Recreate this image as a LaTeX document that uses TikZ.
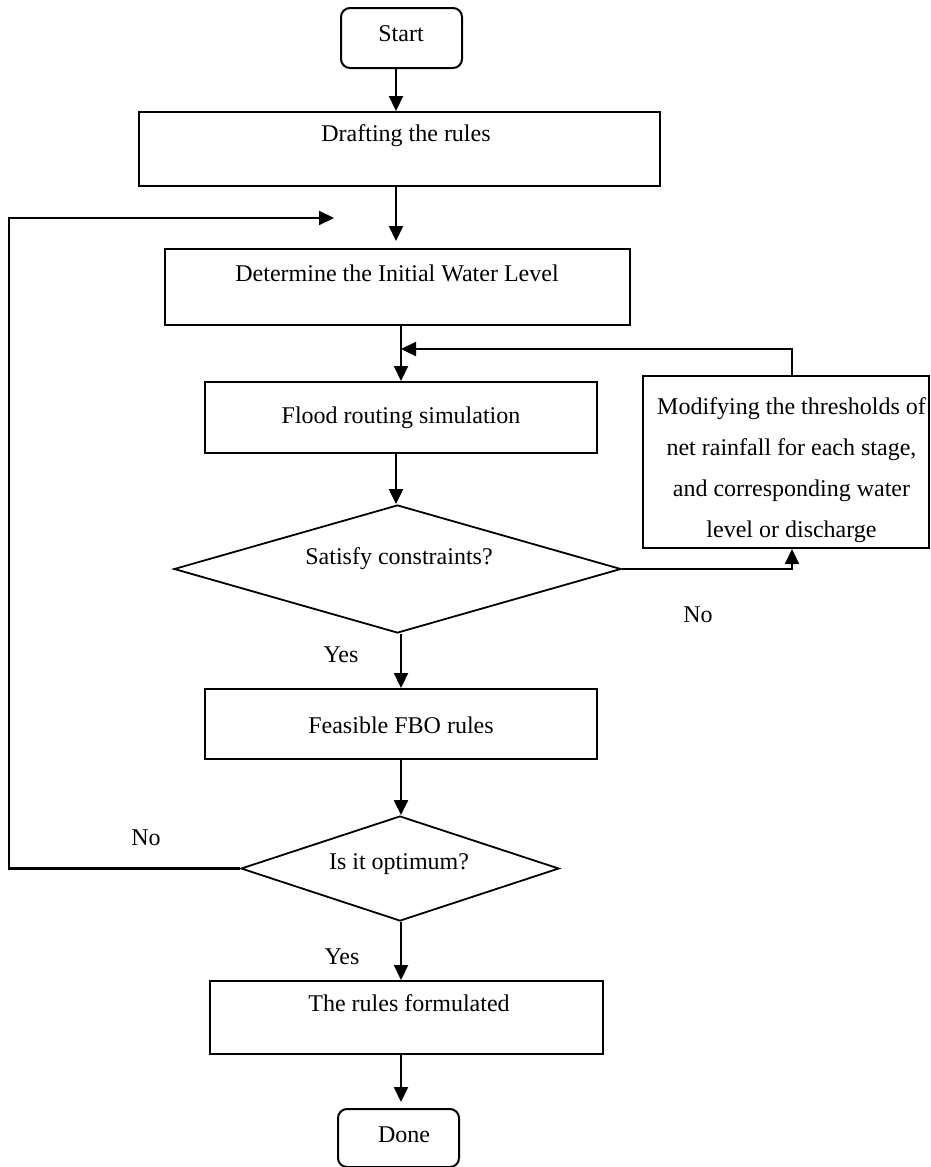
\documentclass[tikz,border=0pt]{standalone}
\usepackage{fontspec}
\setmainfont{Liberation Serif}
\usetikzlibrary{arrows.meta,shapes.geometric,calc}
\begin{document}
\begin{tikzpicture}[x=1pt,y=-1pt,
  every node/.style={font=\fontsize{24}{41}\selectfont},
  box/.style={draw, line width=2pt, rectangle, inner sep=0},
  term/.style={box, rounded corners=9pt},
  dec/.style={draw, line width=1.8pt, diamond, inner sep=0},
  arr/.style={line width=2.2pt, -{Triangle[length=15pt,width=14pt]}},
  txt/.style={inner sep=0, anchor=center}]
\useasboundingbox (0,0) rectangle (931,1167);
% guide coordinates
\coordinate (c396) at (396,0);
\coordinate (c401) at (401,0);
\coordinate (c792) at (792,0);
\coordinate (fb) at (401,349);
\coordinate (lp) at (9,218);
\coordinate (lpend) at (334,218);
% nodes
\node[term, minimum width=121pt, minimum height=60pt] (start) at (401.5,38) {};
\node[txt] (startT) at (401,33.5) {Start};
\node[box, minimum width=521pt, minimum height=74pt] (draft) at (399.5,149) {};
\node[txt] (draftT) at (406,136) {Drafting the rules};
\node[box, minimum width=465pt, minimum height=76pt] (init) at (397.5,287) {};
\node[txt] (initT) at (397,273) {Determine the Initial Water Level};
\node[box, minimum width=392pt, minimum height=71pt] (flood) at (401,417.5) {};
\node[txt] (floodT) at (401,418) {Flood routing simulation};
\node[dec, minimum width=447pt, minimum height=128pt] (sat) at (397.5,569) {};
\node[txt] (satT) at (399,559) {Satisfy constraints?};
\node[box, minimum width=286pt, minimum height=172pt] (mod) at (786,462) {};
\node[txt, align=center] (modT) at (791.5,470) {Modifying the thresholds of\\net rainfall for each stage,\\and corresponding water\\level or discharge};
\node[box, minimum width=392pt, minimum height=70pt] (feas) at (401,724) {};
\node[txt] (feasT) at (401,725) {Feasible FBO rules};
\node[dec, minimum width=318pt, minimum height=105pt] (opt) at (400,868.5) {};
\node[txt] (optT) at (399,864) {Is it optimum?};
\node[box, minimum width=393pt, minimum height=73pt] (rules) at (406.5,1017.5) {};
\node[txt] (rulesT) at (409,1003.5) {The rules formulated};
\node[term, minimum width=121pt, minimum height=58pt] (done) at (398.5,1138) {};
\node[txt] (doneT) at (404,1135) {Done};
% labels
\node[txt] (no1) at (698,615) {No};
\node[txt] (yes1) at (341,655) {Yes};
\node[txt] (no2) at (146,838) {No};
\node[txt] (yes2) at (342,957) {Yes};
% connectors
\draw[arr] (start.south -| c396) -- (draft.north -| c396);
\draw[arr, shorten >=7pt] (draft.south -| c396) -- (init.north -| c396);
\draw[arr] (init.south -| c401) -- (flood.north -| c401);
\draw[arr] (mod.north -| c792) |- (fb);
\draw[arr] (flood.south -| c396) -- (sat.north -| c396);
\draw[arr] (sat.east) -| (mod.south -| c792);
\draw[arr] (sat.south -| c401) -- (feas.north -| c401);
\draw[arr] (feas.south -| c401) -- (opt.north -| c401);
\draw[arr] (opt.west) -| (lp) -- (lpend);
\draw[arr] (opt.south -| c401) -- (rules.north -| c401);
\draw[arr, shorten >=6pt] (rules.south -| c401) -- (done.north -| c401);
\end{tikzpicture}
\end{document}
